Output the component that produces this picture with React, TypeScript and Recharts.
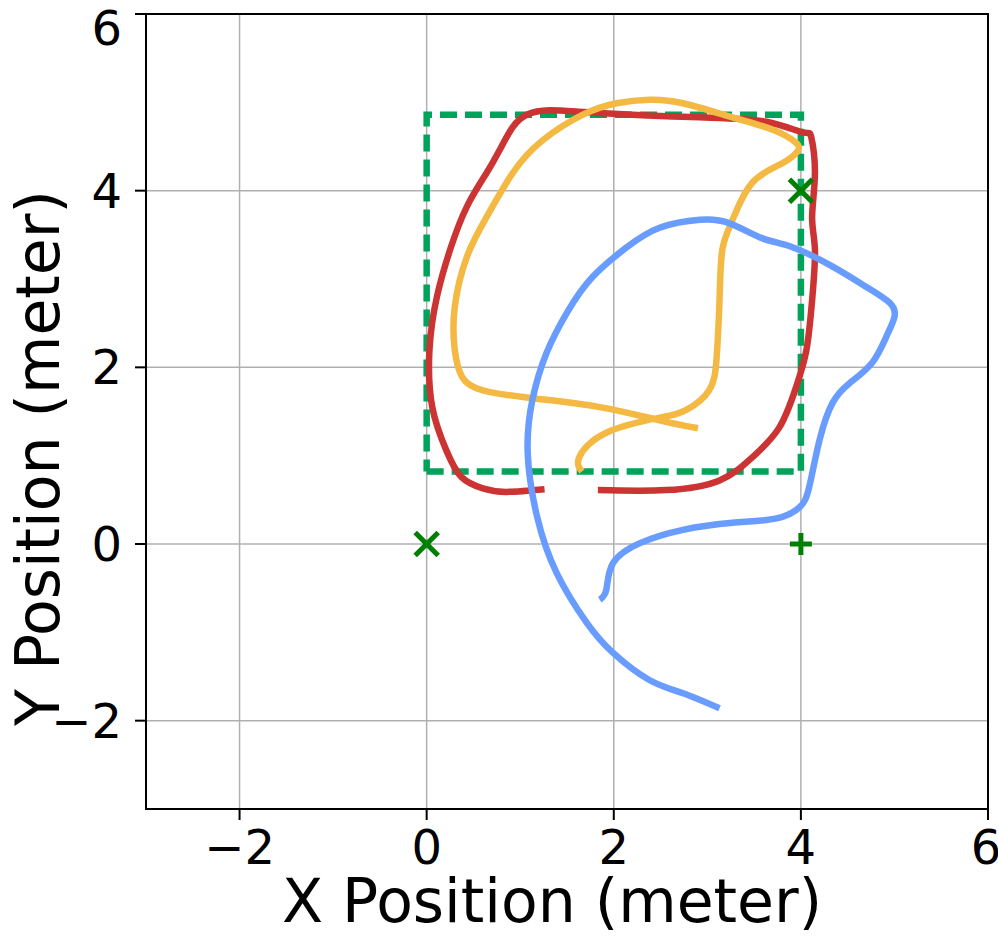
import React from 'react';
import {
  ComposedChart,
  Line,
  Scatter,
  XAxis,
  YAxis,
  CartesianGrid,
  ReferenceArea,
  Label,
} from 'recharts';

type Pt = { x: number; y: number };

const axisTicks = [-2, 0, 2, 4, 6];
const axisDomain: [number, number] = [-3, 6];

// target area (dashed green)
const targetBox: Pt[] = [
  { x: 0, y: 0.82 }, { x: 4, y: 0.82 }, { x: 4, y: 4.86 }, { x: 0, y: 4.86 }, { x: 0, y: 0.82 },
];

const redPath: Pt[] = [
  { x: 1.83, y: 0.61 }, { x: 2.56, y: 0.61 }, { x: 3.13, y: 0.72 }, { x: 3.48, y: 0.98 },
  { x: 3.77, y: 1.32 }, { x: 3.95, y: 1.78 }, { x: 4.06, y: 2.2 }, { x: 4.12, y: 2.76 },
  { x: 4.15, y: 3.33 }, { x: 4.12, y: 3.7 }, { x: 4.15, y: 4.2 }, { x: 4.11, y: 4.61 },
  { x: 4.02, y: 4.66 }, { x: 3.63, y: 4.78 }, { x: 2.92, y: 4.83 }, { x: 1.85, y: 4.88 },
  { x: 1.31, y: 4.91 }, { x: 1.07, y: 4.86 }, { x: 0.92, y: 4.72 }, { x: 0.78, y: 4.46 },
  { x: 0.64, y: 4.2 }, { x: 0.43, y: 3.82 }, { x: 0.25, y: 3.33 }, { x: 0.11, y: 2.8 },
  { x: 0.03, y: 2.2 }, { x: 0.06, y: 1.55 }, { x: 0.21, y: 1.06 }, { x: 0.37, y: 0.76 },
  { x: 0.6, y: 0.63 }, { x: 0.85, y: 0.59 }, { x: 1.26, y: 0.62 },
];

const yellowPath: Pt[] = [
  { x: 1.66, y: 0.82 }, { x: 1.63, y: 0.98 }, { x: 1.92, y: 1.26 }, { x: 2.49, y: 1.43 },
  { x: 2.78, y: 1.52 }, { x: 3.02, y: 1.74 }, { x: 3.1, y: 2.12 }, { x: 3.13, y: 2.76 },
  { x: 3.16, y: 3.33 }, { x: 3.27, y: 3.67 }, { x: 3.48, y: 4.09 }, { x: 3.8, y: 4.31 },
  { x: 3.96, y: 4.44 }, { x: 3.95, y: 4.54 }, { x: 3.7, y: 4.69 }, { x: 3.27, y: 4.83 },
  { x: 2.74, y: 4.99 }, { x: 2.38, y: 5.03 }, { x: 2.03, y: 4.99 }, { x: 1.67, y: 4.86 },
  { x: 1.24, y: 4.57 }, { x: 0.92, y: 4.2 }, { x: 0.64, y: 3.7 }, { x: 0.43, y: 3.25 },
  { x: 0.3, y: 2.68 }, { x: 0.3, y: 2.2 }, { x: 0.38, y: 1.89 }, { x: 0.6, y: 1.74 },
  { x: 1.13, y: 1.65 }, { x: 1.85, y: 1.55 }, { x: 2.49, y: 1.4 }, { x: 2.9, y: 1.31 },
];

const bluePath: Pt[] = [
  { x: 3.13, y: -1.86 }, { x: 2.74, y: -1.69 }, { x: 2.38, y: -1.54 }, { x: 1.99, y: -1.23 },
  { x: 1.71, y: -0.89 }, { x: 1.39, y: -0.33 }, { x: 1.18, y: 0.31 }, { x: 1.08, y: 1.03 },
  { x: 1.13, y: 1.63 }, { x: 1.28, y: 2.16 }, { x: 1.5, y: 2.62 }, { x: 1.77, y: 3.02 },
  { x: 2.14, y: 3.36 }, { x: 2.49, y: 3.58 }, { x: 2.92, y: 3.67 }, { x: 3.24, y: 3.63 },
  { x: 3.59, y: 3.46 }, { x: 3.91, y: 3.36 }, { x: 4.34, y: 3.14 }, { x: 4.7, y: 2.91 },
  { x: 4.95, y: 2.73 }, { x: 5.0, y: 2.57 }, { x: 4.91, y: 2.34 }, { x: 4.76, y: 2.05 },
  { x: 4.52, y: 1.82 }, { x: 4.34, y: 1.6 }, { x: 4.2, y: 1.18 }, { x: 4.09, y: 0.65 },
  { x: 3.99, y: 0.42 }, { x: 3.74, y: 0.29 }, { x: 3.27, y: 0.24 }, { x: 2.74, y: 0.16 },
  { x: 2.28, y: 0.01 }, { x: 1.99, y: -0.22 }, { x: 1.92, y: -0.52 }, { x: 1.85, y: -0.63 },
];

const crossMarks: Pt[] = [{ x: 0, y: 0 }, { x: 4, y: 4 }];
const plusMarks: Pt[] = [{ x: 4, y: 0 }];

const FONT = '"DejaVu Sans", sans-serif';
const markGreen = '#008000';

const fmt = (v: number) => String(v).replace('-', '\u2212');

const CrossShape = (props: any) => {
  const { cx, cy } = props;
  const r = 11.5;
  return (
    <g stroke={markGreen} strokeWidth={5}>
      <line x1={cx - r} y1={cy - r} x2={cx + r} y2={cy + r} />
      <line x1={cx - r} y1={cy + r} x2={cx + r} y2={cy - r} />
    </g>
  );
};

const PlusShape = (props: any) => {
  const { cx, cy } = props;
  const r = 11;
  return (
    <g stroke={markGreen} strokeWidth={5}>
      <line x1={cx - r} y1={cy} x2={cx + r} y2={cy} />
      <line x1={cx} y1={cy - r} x2={cx} y2={cy + r} />
    </g>
  );
};

export default function App() {
  return (
    <div style={{ position: 'absolute', left: 0, top: 0, background: '#fff' }}>
      <ComposedChart width={998} height={938} margin={{ top: 14, right: 10, left: 0, bottom: 0 }}>
        <CartesianGrid stroke="#b0b0b0" strokeWidth={1.5} />
        <XAxis
          dataKey="x"
          type="number"
          domain={axisDomain}
          ticks={axisTicks}
          allowDataOverflow
          height={129}
          tickFormatter={fmt}
          tickSize={11}
          tickMargin={10}
          axisLine={{ stroke: '#000', strokeWidth: 2 }}
          tickLine={{ stroke: '#000', strokeWidth: 2 }}
          tick={{ fill: '#000', fontSize: 48, fontFamily: FONT }}
        >
          <Label
            content={() => (
              <text x={552} y={922} textAnchor="middle" fontSize={60} fontFamily={FONT} fill="#000">
                X Position (meter)
              </text>
            )}
          />
        </XAxis>
        <YAxis
          dataKey="y"
          type="number"
          domain={axisDomain}
          ticks={axisTicks}
          allowDataOverflow
          width={146}
          tickFormatter={fmt}
          tickSize={11}
          tickMargin={13}
          axisLine={{ stroke: '#000', strokeWidth: 2 }}
          tickLine={{ stroke: '#000', strokeWidth: 2 }}
          tick={{ fill: '#000', fontSize: 48, fontFamily: FONT }}
        >
          <Label
            content={() => (
              <text
                x={59}
                y={458}
                transform="rotate(-90 59 458)"
                textAnchor="middle"
                fontSize={60}
                fontFamily={FONT}
                fill="#000"
              >
                Y Position (meter)
              </text>
            )}
          />
        </YAxis>
        <ReferenceArea x1={-3} x2={6} y1={-3} y2={6} fill="none" stroke="#000" strokeWidth={2} fillOpacity={0} />
        <Line data={targetBox} dataKey="y" type="linear" stroke="#00a359" strokeWidth={6.5} strokeDasharray="17 8" dot={false} isAnimationActive={false} />
        <Line data={redPath} dataKey="y" type="natural" stroke="#cc3333" strokeWidth={6.5} dot={false} isAnimationActive={false} />
        <Line data={yellowPath} dataKey="y" type="natural" stroke="#f4b942" strokeWidth={6.5} dot={false} isAnimationActive={false} />
        <Line data={bluePath} dataKey="y" type="natural" stroke="#699cff" strokeWidth={6.5} dot={false} isAnimationActive={false} />
        <Scatter data={crossMarks} dataKey="y" shape={CrossShape} isAnimationActive={false} />
        <Scatter data={plusMarks} dataKey="y" shape={PlusShape} isAnimationActive={false} />
      </ComposedChart>
    </div>
  );
}
